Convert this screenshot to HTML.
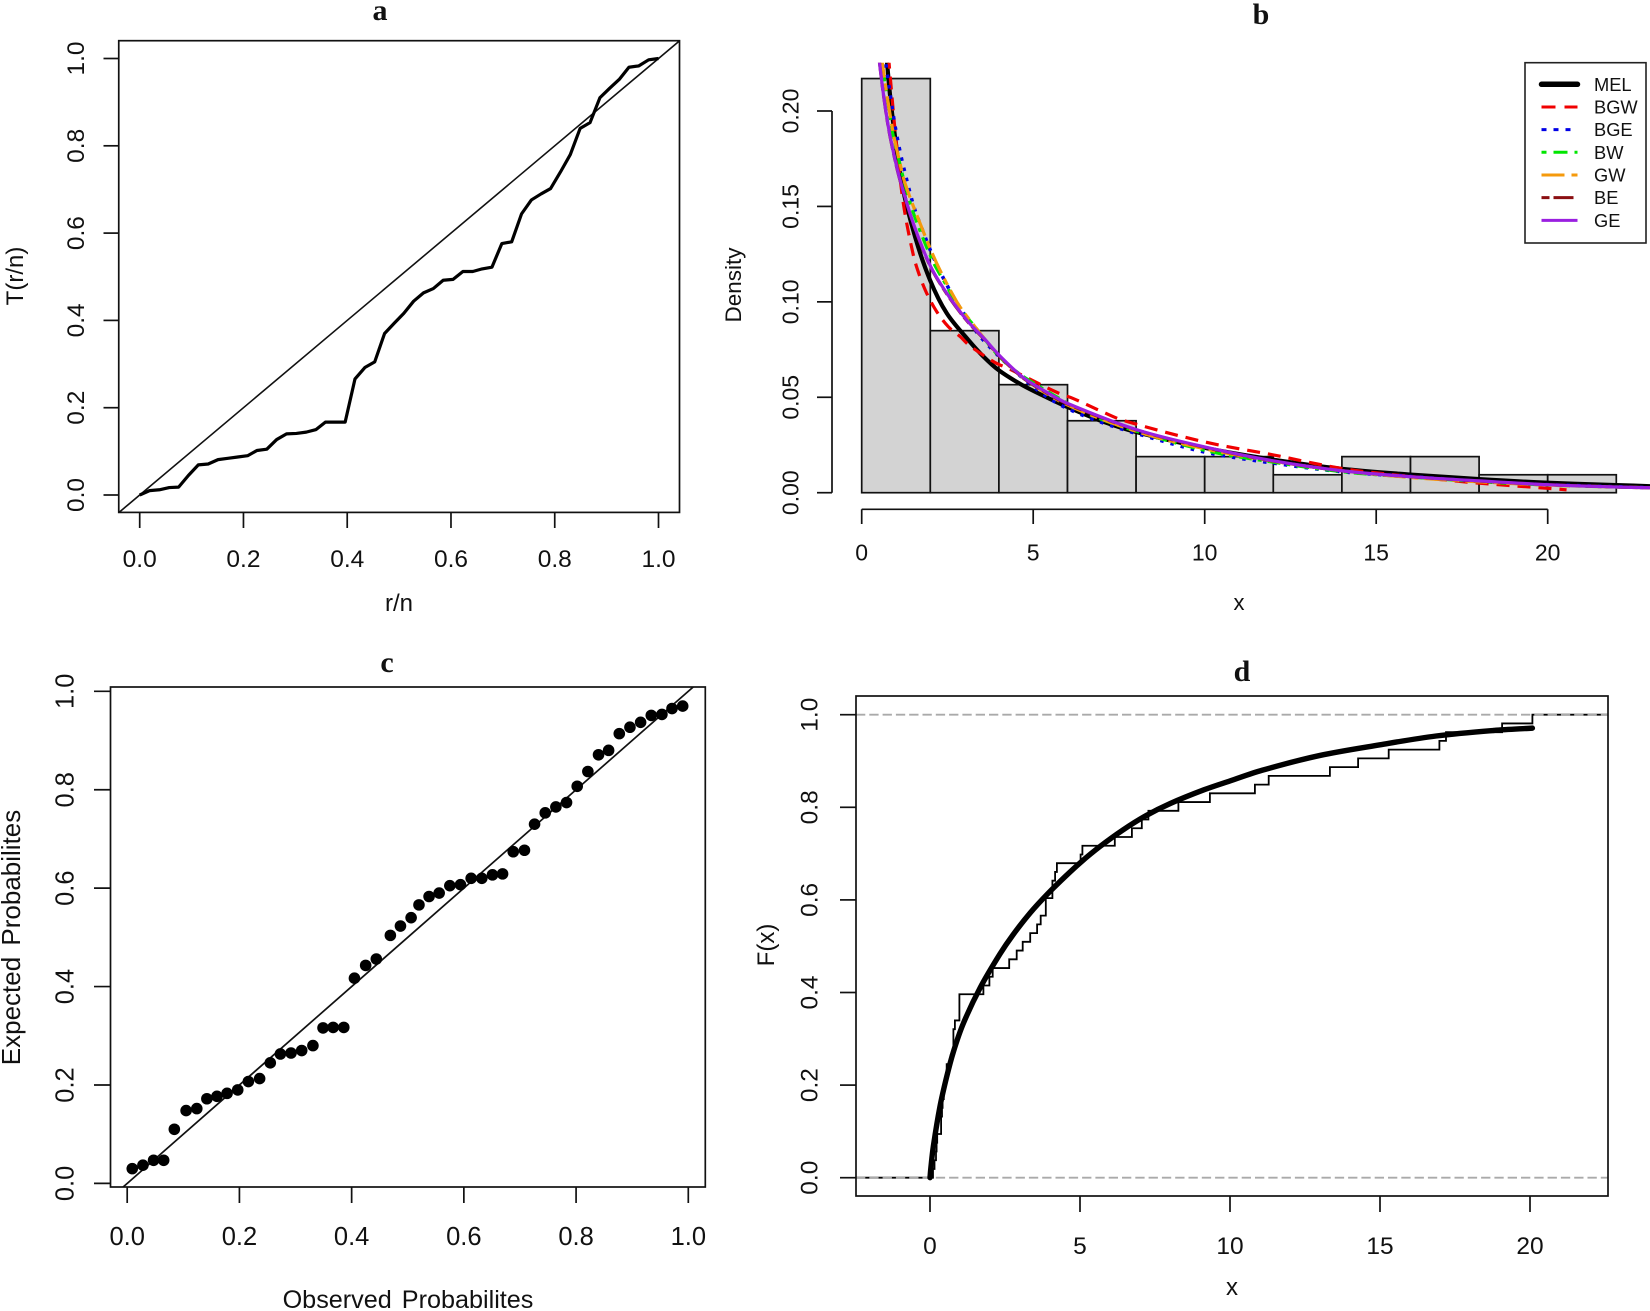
<!DOCTYPE html>
<html lang="en">
<head>
<meta charset="utf-8">
<title>Four-panel distribution diagnostic plots</title>
<style>
html,body{margin:0;padding:0;background:#fff;}
svg{display:block;}
text{font-family:"Liberation Sans",sans-serif;fill:#111;}
.ttl{font-family:"Liberation Serif",serif;font-weight:bold;font-size:30px;text-anchor:middle;}
.lab{text-anchor:middle;}
</style>
</head>
<body>
<svg id="chart" width="1650" height="1311" viewBox="0 0 1650 1311" xmlns="http://www.w3.org/2000/svg">
  <defs>
    <clipPath id="clip-a"><rect x="119" y="41" width="561" height="472"/></clipPath>
    <clipPath id="clip-b"><rect x="840" y="62.7" width="810" height="500"/></clipPath>
    <clipPath id="clip-c"><rect x="111" y="687" width="594" height="500"/></clipPath>
    <clipPath id="clip-d"><rect x="856" y="696" width="752" height="500"/></clipPath>
  </defs>
  <rect width="1650" height="1311" fill="#fff"/>

  <g id="panel-a">
    <text class="ttl" x="380" y="20">a</text>
    <text class="lab" x="399" y="611" font-size="24">r/n</text>
    <text class="lab" x="23" y="276" font-size="24" transform="rotate(-90 23 276)">T(r/n)</text>
  </g>
  <g id="panel-b">
    <text class="ttl" x="1261" y="24">b</text>
    <text class="lab" x="1239" y="610" font-size="22">x</text>
    <text class="lab" x="741" y="285" font-size="22.5" transform="rotate(-90 741 285)">Density</text>
  </g>
  <g id="panel-c">
    <text class="ttl" x="387" y="672">c</text>
    <text class="lab" x="408" y="1308" font-size="25.2" word-spacing="3">Observed Probabilites</text>
    <text class="lab" x="20" y="937.5" font-size="26" word-spacing="4" transform="rotate(-90 20 937.5)">Expected Probabilites</text>
  </g>
  <g id="panel-d">
    <text class="ttl" x="1242" y="681">d</text>
    <text class="lab" x="1232" y="1295" font-size="24">x</text>
    <text class="lab" x="774" y="945" font-size="24" transform="rotate(-90 774 945)">F(x)</text>
  </g>
</svg>
<script>
// ---------- Panel a data ----------
const ttlRank = [0,.019,.038,.057,.075,.094,.113,.132,.151,.170,.189,.208,.226,.245,.264,.283,.302,.321,.340,.358,.377,.396,.415,.434,.453,.472,.491,.509,.528,.547,.566,.585,.604,.623,.642,.660,.679,.698,.717,.736,.755,.774,.792,.811,.830,.849,.868,.887,.906,.925,.943,.962,.981,1];
const ttlValue = [0,.010,.012,.017,.018,.045,.069,.071,.081,.084,.087,.090,.102,.105,.127,.140,.141,.144,.150,.167,.167,.167,.266,.292,.305,.370,.394,.416,.444,.463,.473,.492,.494,.512,.512,.518,.522,.576,.580,.644,.676,.690,.702,.740,.780,.840,.853,.910,.932,.953,.980,.983,.997,1];
const unitTicks = [0,.2,.4,.6,.8,1];
const unitTickLabels = ['0.0','0.2','0.4','0.6','0.8','1.0'];
const diagonalEnds = [-.2,1.2];

// ---------- Panel b data ----------
const binEdges = [0,2,4,6,8,10,12,14,16,18,20,22];
const binDensity = [.2170,.0849,.0566,.0377,.0189,.0189,.0094,.0189,.0189,.0094,.0094];
const histXTicks = [0,5,10,15,20];
const histXLabels = ['0','5','10','15','20'];
const histYTicks = [0,.05,.10,.15,.20];
const histYLabels = ['0.00','0.05','0.10','0.15','0.20'];
const melX = [.70,.738,.834,.971,1.166,1.554,1.99,2.48,3.11,3.54,4,4.7,5.38,6,6.94,8,10,12,14,16,18,20,22,23];
const melY = [.2330,.2254,.2070,.1865,.1622,.1342,.1115,.094,.0800,.0715,.0641,.0562,.0501,.0449,.0379,.0318,.0235,.0173,.0125,.0095,.0071,.0052,.004,.0034];
const bgwX = [.78,.796,.874,.99,1.213,1.504,1.68,1.895,2.187,2.525,2.87,3.15,3.88,4.3,5.7,6.16,7.04,7.62,10,12,14,16,18,20,20.55];
const bgwY = [.2290,.2254,.2093,.1866,.1517,.1246,.1141,.1045,.0949,.087,.0818,.0770,.0683,.0649,.0525,.0494,.0422,.0379,.0266,.0198,.0127,.0085,.005,.0023,.0015];
const bgeX = [.68,.708,.95,1.137,1.283,1.36,1.534,1.75,2.09,2.6,3.2,3.5,4,4.7,5.38,6,6.94,8,10,12,14,16,18,20,22,23];
const bgeY = [.2300,.2242,.1945,.177,.166,.1604,.1491,.1386,.1234,.1050,.0879,.0809,.0715,.0600,.0505,.0441,.0372,.0311,.0213,.0155,.011,.0085,.006,.0042,.0031,.0026];
const bwX = [.58,.60,.647,.776,.90,1.085,1.29,1.534,2.07,2.45,2.82,3.3,4,4.6,5.2,5.77,6.36,7.6,10,12,14,16,18,20,22,23];
const bwY = [.2275,.2245,.2184,.2032,.1887,.1744,.1596,.1452,.1214,.1092,.0975,.0870,.0715,.0623,.0554,.0493,.0432,.0345,.0222,.0160,.0110,.0082,.0058,.004,.003,.0026];
const gwX = [.58,.60,.729,.92,1.117,1.262,1.7,2.187,2.77,3.11,4,4.8,6,8,10,12,14,16,18,20,22,23];
const gwY = [.2290,.2254,.2093,.1884,.1725,.1622,.1412,.1202,.1001,.0914,.0719,.0590,.0460,.0322,.023,.0165,.0115,.008,.0057,.004,.003,.0026];
const beX = [.47,.52,.63,.776,.942,1.117,1.504,1.99,2.48,3.06,3.59,4,4.7,5.38,6,8,10,12,14,16,18,20,22,23];
const beY = [.2337,.2251,.2090,.1915,.1767,.1637,.1409,.1190,.1042,.0902,.0801,.0719,.0602,.0525,.0465,.0330,.0238,.0166,.0115,.0084,.0061,.0042,.003,.0026];
const geX = [.47,.52,.63,.776,.942,1.117,1.504,1.99,2.48,3.06,3.59,4,4.7,5.38,6,8,10,12,14,16,18,20,22,23];
const geY = [.2340,.2254,.2093,.1918,.1770,.1640,.1412,.1193,.1045,.0905,.0804,.0722,.0605,.0528,.0468,.0331,.024,.0167,.0115,.0084,.0062,.0042,.003,.0026];

// ---------- Panel c data ----------
const observedP = [.009,.028,.047,.065,.084,.105,.124,.142,.160,.178,.197,.216,.236,.255,.273,.292,.311,.331,.349,.367,.386,.405,.425,.444,.469,.487,.506,.520,.538,.556,.575,.594,.613,.632,.651,.669,.688,.708,.726,.745,.764,.783,.802,.821,.840,.858,.877,.896,.915,.934,.953,.971,.990];
const expectedP = [.030,.037,.047,.047,.110,.148,.152,.172,.177,.183,.190,.207,.213,.245,.263,.265,.270,.280,.316,.317,.317,.417,.443,.456,.504,.523,.540,.566,.583,.590,.605,.607,.620,.620,.627,.629,.674,.677,.730,.753,.765,.774,.807,.837,.871,.880,.914,.927,.937,.951,.953,.965,.970];

// ---------- Panel d data ----------
const sortedSample = [.1,.15,.2,.22,.24,.37,.37,.4,.42,.46,.5,.53,.556,.69,.78,.78,.78,.83,.98,.98,.98,1.78,1.98,2.09,2.64,2.89,3.09,3.34,3.57,3.69,3.86,3.86,4.08,4.08,4.17,4.23,5.02,5.08,6.16,6.73,7.06,7.28,8.28,9.33,10.83,11.29,13.33,14.27,15.29,16.98,17.2,19.07,20.08];
const cdfX = [0,.03,.11,.33,.556,.78,1.11,1.67,2.33,2.76,3.34,3.92,4.5,5.02,5.66,6.43,7.2,8,9.14,10,11.07,13,15,16.87,18.8,20.08];
const cdfY = [0,.022,.067,.153,.218,.272,.333,.410,.483,.524,.572,.613,.650,.681,.715,.751,.782,.808,.838,.857,.880,.912,.935,.954,.966,.971];
const cdfXTicks = [0,5,10,15,20];
const cdfXLabels = ['0','5','10','15','20'];
const cdfRange = [-2.47,22.6];
const referenceLevels = [0,1];

// ---------- Legend ----------
const legendNames = ['MEL','BGW','BGE','BW','GW','BE','GE'];

const NS = 'http://www.w3.org/2000/svg';
function mk(tag, attrs, parent) {
  const el = document.createElementNS(NS, tag);
  for (const k in attrs) el.setAttribute(k, attrs[k]);
  parent.appendChild(el);
  return el;
}
function linear(d0, d1, p0, p1) {
  return v => p0 + (v - d0) * (p1 - p0) / (d1 - d0);
}
function polyD(xs, ys, X, Y) {
  return xs.map((v, i) => (i ? 'L' : 'M') + X(v).toFixed(2) + ' ' + Y(ys[i]).toFixed(2)).join('');
}
function smoothD(xs, ys, X, Y) {
  const p = xs.map((v, i) => [X(v), Y(ys[i])]);
  const tan = p.map((q, i) => {
    const a = p[Math.max(i - 1, 0)], b = p[Math.min(i + 1, p.length - 1)];
    const dx = b[0] - a[0], dy = b[1] - a[1], n = Math.hypot(dx, dy) || 1;
    return [dx / n, dy / n];
  });
  let d = 'M' + p[0][0].toFixed(2) + ' ' + p[0][1].toFixed(2);
  for (let i = 0; i < p.length - 1; i++) {
    const L = Math.hypot(p[i + 1][0] - p[i][0], p[i + 1][1] - p[i][1]) / 3;
    d += 'C' + (p[i][0] + tan[i][0] * L).toFixed(2) + ' ' + (p[i][1] + tan[i][1] * L).toFixed(2) + ' ' +
      (p[i + 1][0] - tan[i + 1][0] * L).toFixed(2) + ' ' + (p[i + 1][1] - tan[i + 1][1] * L).toFixed(2) + ' ' +
      p[i + 1][0].toFixed(2) + ' ' + p[i + 1][1].toFixed(2);
  }
  return d;
}
const AXW = 1.7, INK = '#111';
function box(parent, x0, y0, x1, y1) {
  const r = mk('rect', {x: x0, y: y0, width: x1 - x0, height: y1 - y0, fill: 'none', stroke: INK, 'stroke-width': AXW}, parent);
  
  
}
function xAxis(parent, ticks, labels, X, axisY, tickEnd, labelY, size, spine) {
  if (spine) {
    const s = mk('line', {x1: X(ticks[0]), x2: X(ticks[ticks.length - 1]), y1: axisY, y2: axisY, stroke: INK, 'stroke-width': AXW}, parent);
    
    
  }
  ticks.forEach((v, i) => {
    const t = mk('line', {x1: X(v), x2: X(v), y1: axisY, y2: tickEnd, stroke: INK, 'stroke-width': AXW}, parent);
    
    
    const l = mk('text', {x: X(v), y: labelY + size * .36, 'text-anchor': 'middle', 'font-size': size}, parent);
    l.textContent = labels[i];
    
    
  });
}
function yAxis(parent, ticks, labels, Y, axisX, tickEnd, labelX, size, spine) {
  if (spine) {
    const s = mk('line', {x1: axisX, x2: axisX, y1: Y(ticks[0]), y2: Y(ticks[ticks.length - 1]), stroke: INK, 'stroke-width': AXW}, parent);
    
    
  }
  ticks.forEach((v, i) => {
    const t = mk('line', {x1: axisX, x2: tickEnd, y1: Y(v), y2: Y(v), stroke: INK, 'stroke-width': AXW}, parent);
    
    
    const l = mk('text', {x: labelX, y: Y(v), 'text-anchor': 'middle', 'font-size': size, dy: size * .36, transform: 'rotate(-90 ' + labelX + ' ' + Y(v) + ')'}, parent);
    l.textContent = labels[i];
    
    
  });
}

// ---------- Draw panel a ----------
(function () {
  const g = document.getElementById('panel-a');
  const X = linear(0, 1, 139.7, 658.5), Y = linear(0, 1, 495, 58.5);
  const diag = mk('path', {d: polyD(diagonalEnds, diagonalEnds, X, Y), stroke: INK, 'stroke-width': 1.6, fill: 'none', 'clip-path': 'url(#clip-a)'}, g);
  
  
  const line = mk('path', {d: polyD(ttlRank, ttlValue, X, Y), stroke: '#000', 'stroke-width': 3.2, fill: 'none', 'stroke-linejoin': 'round', 'clip-path': 'url(#clip-a)'}, g);
  
  
  box(g, 118.75, 40.7, 679.5, 512.4);
  xAxis(g, unitTicks, unitTickLabels, X, 512.4, 528, 558, 24.5, false);
  yAxis(g, unitTicks, unitTickLabels, Y, 118.75, 103.5, 75, 24.5, false);
})();

// ---------- Draw panel b ----------
(function () {
  const g = document.getElementById('panel-b');
  const X = linear(0, 20, 861.7, 1547.7), Y = linear(0, .2, 492.7, 111);
  binDensity.forEach((v, i) => {
    const bar = mk('rect', {x: X(binEdges[i]), y: Y(v), width: X(binEdges[i + 1]) - X(binEdges[i]), height: Y(0) - Y(v), fill: '#d3d3d3', stroke: INK, 'stroke-width': 1.7}, g);
    
    
  });
  xAxis(g, histXTicks, histXLabels, X, 509.3, 524, 552, 23, true);
  yAxis(g, histYTicks, histYLabels, Y, 832, 817, 790, 23, true);
  const series = [
    [melX, melY, '#000', 4.2, ''],
    [bgwX, bgwY, '#f00000', 3.2, '13 8'],
    [bgeX, bgeY, '#0000e6', 3.6, '3.5 7'],
    [bwX, bwY, '#00e600', 3.2, '4 6 13 6'],
    [gwX, gwY, '#f59a0c', 3.2, '22 6 7 6'],
    [beX, beY, '#8b0f12', 3.2, '8 4 20 4'],
    [geX, geY, '#9a1fe0', 3.2, '']
  ];
  series.forEach((s, i) => {
    const p = mk('path', {d: smoothD(s[0], s[1], X, Y), stroke: s[2], 'stroke-width': s[3], fill: 'none', 'clip-path': 'url(#clip-b)'}, g);
    if (s[4]) p.setAttribute('stroke-dasharray', s[4]);
    
    
  });
  const lg = mk('g', {}, g);
  
  
  const frame = mk('rect', {x: 1525, y: 62.7, width: 121, height: 180.3, fill: '#fff', stroke: '#222', 'stroke-width': 1.6}, lg);
  
  
  legendNames.forEach((n, i) => {
    const s = series[i];
    const ry = 84.3 + i * 22.67;
    const key = mk('line', {x1: 1541.5, x2: 1577.5, y1: ry, y2: ry, stroke: s[2], 'stroke-width': i ? 3 : 5.5, 'stroke-linecap': i ? 'butt' : 'round'}, lg);
    if (s[4]) key.setAttribute('stroke-dasharray', ['','14 9','5 7','5 7 14 7','23 7','8 4 20 4',''][i]);
    
    
    const t = mk('text', {x: 1594, y: ry + 6.5, 'font-size': 18.3}, lg);
    t.textContent = n;
    
    
  });
})();

// ---------- Draw panel c ----------
(function () {
  const g = document.getElementById('panel-c');
  const X = linear(0, 1, 127.2, 688.3), Y = linear(0, 1, 1183.4, 691.3);
  const diag = mk('path', {d: polyD(diagonalEnds, diagonalEnds, X, Y), stroke: INK, 'stroke-width': 1.7, fill: 'none', 'clip-path': 'url(#clip-c)'}, g);
  
  
  observedP.forEach((v, i) => {
    const c = mk('circle', {cx: X(v), cy: Y(expectedP[i]), r: 5.8, fill: '#000'}, g);
    
    
  });
  box(g, 110.5, 687, 705.3, 1187);
  xAxis(g, unitTicks, unitTickLabels, X, 1187, 1203, 1236, 25.5, false);
  yAxis(g, unitTicks, unitTickLabels, Y, 110.5, 94, 64.5, 25.5, false);
})();

// ---------- Draw panel d ----------
(function () {
  const g = document.getElementById('panel-d');
  const X = linear(0, 20, 930, 1530), Y = linear(0, 1, 1177.7, 714.7);
  const n = sortedSample.length;
  let d = 'M' + X(cdfRange[0]) + ' ' + Y(0);
  sortedSample.forEach((v, i) => {
    d += 'L' + X(v).toFixed(2) + ' ' + Y(i / n).toFixed(2) + 'L' + X(v).toFixed(2) + ' ' + Y((i + 1) / n).toFixed(2);
  });
  d += 'L' + X(cdfRange[1]) + ' ' + Y(1);
  const step = mk('path', {d: d, stroke: '#000', 'stroke-width': 1.8, fill: 'none', 'clip-path': 'url(#clip-d)'}, g);
  
  
  referenceLevels.forEach(v => {
    const r = mk('line', {x1: 856, x2: 1608, y1: Y(v), y2: Y(v), stroke: '#aaaaaa', 'stroke-width': 1.8, 'stroke-dasharray': '9.3 4'}, g);
    
    
  });
  const cur = mk('path', {d: smoothD(cdfX, cdfY, X, Y), stroke: '#000', 'stroke-width': 5.4, fill: 'none', 'stroke-linecap': 'round', 'clip-path': 'url(#clip-d)'}, g);
  
  
  box(g, 856, 696, 1608, 1196);
  xAxis(g, cdfXTicks, cdfXLabels, X, 1196, 1212, 1245, 24.5, false);
  yAxis(g, unitTicks, unitTickLabels, Y, 856, 840, 808.5, 24.5, false);
})();
</script>
</body>
</html>
